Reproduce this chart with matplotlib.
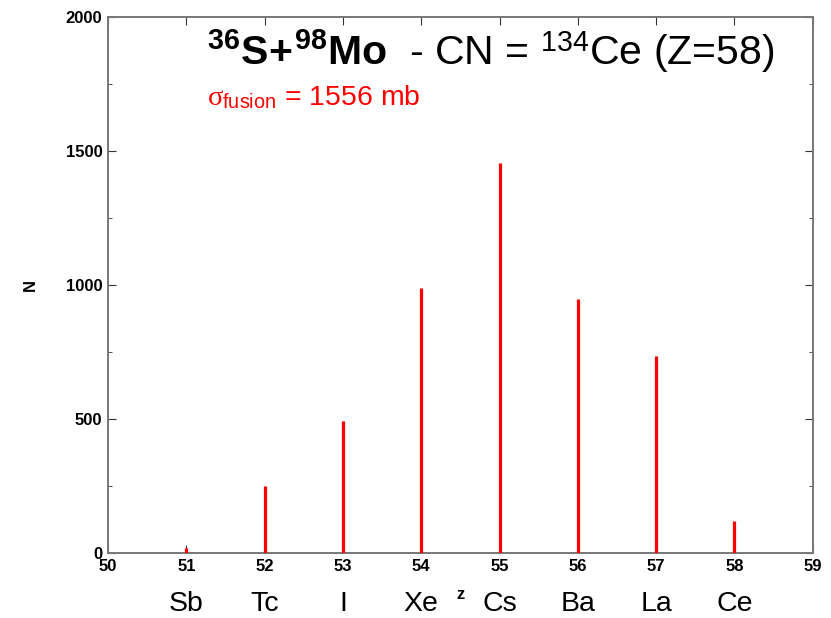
import matplotlib
matplotlib.use("Agg")
import matplotlib.pyplot as plt
from matplotlib.ticker import MultipleLocator

plt.rcParams['font.family'] = ['Liberation Sans', 'DejaVu Sans']
plt.rcParams['mathtext.fontset'] = 'custom'
plt.rcParams['mathtext.rm'] = 'Liberation Sans'
plt.rcParams['mathtext.bf'] = 'Liberation Sans:bold'
plt.rcParams['mathtext.it'] = 'Liberation Serif'

# data
z_values = [51, 52, 53, 54, 55, 56, 57, 58]
counts = [19, 250, 492, 989, 1457, 947, 735, 119]
elements = ['Sb', 'Tc', 'I', 'Xe', 'Cs', 'Ba', 'La', 'Ce']

fig = plt.figure(figsize=(8.31, 6.18), dpi=100)
ax = fig.add_axes([0.130, 0.105, 0.848, 0.8675])

ax.vlines(z_values, 0, counts, color='red', linewidth=2.3, zorder=3)

ax.set_xlim(50, 59)
ax.set_ylim(0, 2000)
ax.xaxis.set_major_locator(MultipleLocator(1))
ax.yaxis.set_major_locator(MultipleLocator(500))
ax.yaxis.set_minor_locator(MultipleLocator(250))
ax.tick_params(which='both', direction='in', top=True, right=True, color='#333333')
ax.tick_params(which='major', length=6, labelsize=12, pad=4)
ax.tick_params(which='minor', length=3)
for lab in ax.get_xticklabels() + ax.get_yticklabels():
    lab.set_fontweight('bold')
for sp in ax.spines.values():
    sp.set_color('#777777')
    sp.set_linewidth(1.4)

ax.set_ylabel('N', fontweight='bold', fontsize=12, labelpad=20)

# element names under the z ticks
xt = ax.get_xaxis_transform()
for z, name in zip(z_values, elements):
    ax.annotate(name, xy=(z, 0), xycoords=xt, xytext=(0, -58),
                textcoords='offset pixels', ha='center', va='baseline', fontsize=20.5)
ax.annotate('z', xy=(54.5, 0), xycoords=xt, xytext=(0, -46),
            textcoords='offset pixels', ha='center', va='baseline',
            fontsize=12, fontweight='bold')

ax.annotate(r'$\mathbf{^{36}S\!+\!^{98}Mo}$  - CN = $^{134}$Ce (Z=58)',
            xy=(207, 618 - 65), xycoords='figure pixels', fontsize=29.5,
            ha='left', va='baseline')
ax.annotate(r'$\sigma_{\rm fusion}$ = 1556 mb', color='red',
            xy=(207, 618 - 105), xycoords='figure pixels', fontsize=20.5,
            ha='left', va='baseline')

fig.savefig('out.png', dpi=100)
